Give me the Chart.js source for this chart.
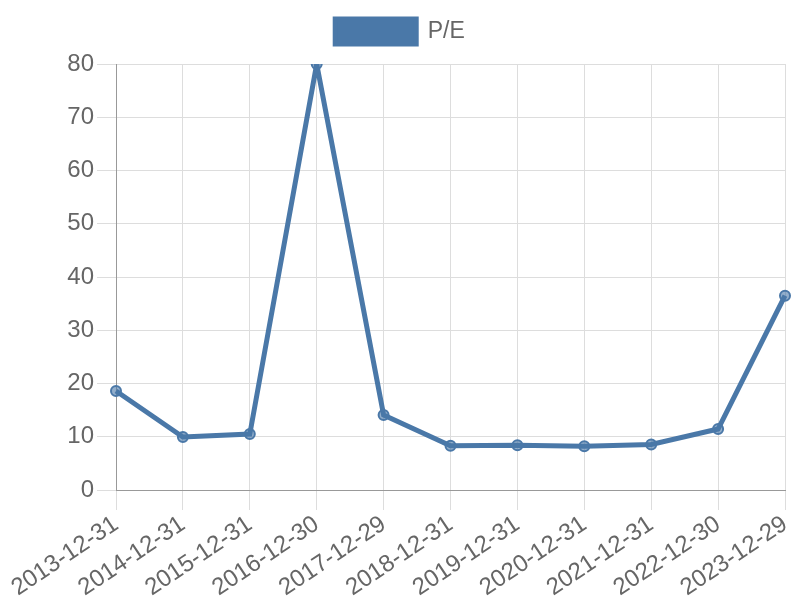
<!DOCTYPE html>
<html>
<head>
<meta charset="utf-8">
<script src="https://cdn.jsdelivr.net/npm/chart.js@4"></script>
<style>
  html, body { margin: 0; padding: 0; background: #fff; }
  #wrap { width: 800px; height: 600px; }
</style>
</head>
<body>
<div id="wrap"><canvas id="myChart" width="800" height="600"></canvas></div>
<script>
const labels = ['2013-12-31', '2014-12-31', '2015-12-31', '2016-12-30', '2017-12-29', '2018-12-31',
  '2019-12-31', '2020-12-31', '2021-12-31', '2022-12-30', '2023-12-29'];
const peValues = [18.6, 9.95, 10.5, 80.0, 14.1, 8.3, 8.4, 8.2, 8.55, 11.45, 36.5];
const seriesName = 'P/E';

// extra room under the legend
const legendMargin = {
  id: 'legendMargin',
  beforeInit(chart) {
    const fit = chart.legend.fit;
    chart.legend.fit = function () {
      fit.bind(chart.legend)();
      this.height += 10;
    };
  }
};

function initChart(target) {
  const data = {
    labels: labels,
    datasets: [{
      label: seriesName,
      data: peValues,
      borderColor: 'rgb(74, 120, 168)',
      backgroundColor: 'rgb(74, 120, 168)',
      borderWidth: 5,
      pointRadius: 5,
      pointBorderWidth: 2,
      pointBackgroundColor: 'rgba(74, 120, 168, 0.6)',
      pointBorderColor: 'rgb(74, 120, 168)',
      tension: 0
    }]
  };

  const config = {
    type: 'line',
    data: data,
    plugins: [legendMargin],
    options: {
      responsive: false,
      animation: false,
      layout: { padding: 0 },
      plugins: {
        legend: {
          labels: { font: { size: 23 }, color: '#666', boxWidth: 81, boxHeight: 25, padding: 19 }
        },
        tooltip: { enabled: false }
      },
      scales: {
        x: {
          grid: { color: '#ddd', tickLength: 20 },
          border: { color: '#999' },
          ticks: {
            font: { size: 24 }, color: '#666', autoSkip: false,
            minRotation: 34, maxRotation: 34, padding: 0
          },
          afterFit(scale) {
            scale.height = 110;
            scale.paddingLeft = 0;
            scale.paddingRight = 15;
          }
        },
        y: {
          min: 0,
          max: 80,
          grid: { color: '#ddd', tickLength: 19 },
          border: { color: '#999' },
          ticks: { font: { size: 24 }, color: '#666', stepSize: 10 },
          afterFit(scale) {
            scale.width = 116;
          }
        }
      }
    }
  };
  return new Chart(target, config);
}

document.addEventListener('DOMContentLoaded', () => {
  Chart.defaults.font.family = '"Liberation Sans", Arial, sans-serif';
  initChart(document.querySelector('#myChart'));
});
</script>
</body>
</html>
